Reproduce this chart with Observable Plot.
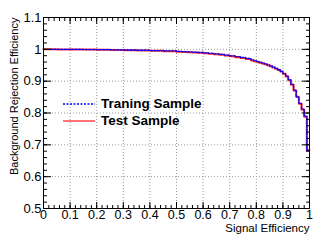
<!DOCTYPE html>
<html>
<head>
<meta charset="utf-8">
<script src="https://cdn.jsdelivr.net/npm/d3@7"></script>
<script src="https://cdn.jsdelivr.net/npm/@observablehq/plot@0.6"></script>
<style>
  html, body { margin: 0; padding: 0; background: white; }
  #wrap { position: relative; width: 332px; height: 240px; font-family: "Liberation Sans", Arial, Helvetica, sans-serif; }
  #legend { position: absolute; left: 63px; top: 95px; font-weight: bold; font-size: 13.5px; color: black; }
  .row { display: flex; align-items: center; height: 17px; }
  .row svg { margin-right: 6px; }
</style>
</head>
<body>
<div id="wrap"></div>
<script>
const sigEff = [0,0.05,0.10,0.15,0.20,0.25,0.30,0.35,0.40,0.45,0.50,
  0.52,0.54,0.56,0.58,0.60,0.62,0.64,0.66,0.68,0.70,0.72,0.74,0.76,0.78,
  0.79,0.80,0.81,0.82,0.83,0.84,0.85,0.86,0.87,0.88,0.89,0.90,
  0.91,0.92,0.93,0.94,0.95,0.96,0.97,0.98,0.99,1.00];
const testRej = [1.0000,0.9998,0.9995,0.9992,0.9988,0.9982,0.9975,0.9966,0.9955,0.9942,0.9927,
  0.9920,0.9911,0.9901,0.9890,0.9877,0.9862,0.9845,0.9826,0.9804,0.9780,0.9755,0.9727,0.9693,0.9650,
  0.9628,0.9605,0.9580,0.9555,0.9528,0.9498,0.9465,0.9430,0.9392,0.9350,0.9300,0.9235,
  0.9150,0.9030,0.8890,0.8710,0.8510,0.8290,0.8100,0.7880,0.6820,0.6820];
const trainRej = [1.0000,0.9998,0.9996,0.9993,0.9990,0.9985,0.9979,0.9971,0.9961,0.9949,0.9935,
  0.9928,0.9920,0.9911,0.9900,0.9888,0.9874,0.9858,0.9840,0.9819,0.9796,0.9771,0.9744,0.9712,0.9670,
  0.9648,0.9624,0.9599,0.9572,0.9544,0.9513,0.9480,0.9443,0.9402,0.9358,0.9306,0.9240,
  0.9160,0.9040,0.8900,0.8720,0.8500,0.8300,0.8120,0.7900,0.6830,0.6830];
const xTicks = [0,0.1,0.2,0.3,0.4,0.5,0.6,0.7,0.8,0.9,1];
const yTicks = [0.5,0.6,0.7,0.8,0.9,1,1.1];
const xMinor = d3.range(0, 1.0001, 0.02);
const yMinor = d3.range(0.5, 1.1001, 0.02);
const series = ["Traning Sample", "Test Sample"];
const xTitle = "Signal Efficiency";
const yTitle = "Background Rejection Efficiency";

const test = sigEff.map((x, i) => ({x, y: testRej[i]}));
const train = sigEff.map((x, i) => ({x, y: trainRej[i]}));
const fmt = d => String(d);

const chart = Plot.plot({
  width: 332, height: 240,
  marginLeft: 43, marginRight: 23, marginTop: 17, marginBottom: 32,
  x: {domain: [0, 1]},
  y: {domain: [0.5, 1.1]},
  style: {fontFamily: "'Liberation Sans', Arial, Helvetica, sans-serif", background: "white", color: "black", overflow: "visible"},
  marks: [
    Plot.gridX(xTicks, {stroke: "#999", strokeOpacity: 1, strokeDasharray: "1,2"}),
    Plot.gridY(yTicks, {stroke: "#999", strokeOpacity: 1, strokeDasharray: "1,2"}),
    Plot.line(test, {x: "x", y: "y", curve: "step-after", stroke: "#ff2a2a", strokeWidth: 2}),
    Plot.line(train, {x: "x", y: "y", curve: "step-after", stroke: "#0000ff", strokeWidth: 1.3, strokeDasharray: "2,1.5"}),
    Plot.frame({stroke: "black"}),
    Plot.axisX(xTicks, {anchor: "bottom", tickSize: 0, tickPadding: 2, fontSize: 12.5, tickFormat: fmt, label: null}),
    Plot.axisX(xTicks, {anchor: "bottom", tickSize: -6, tickFormat: () => "", label: null}),
    Plot.axisX(xMinor, {anchor: "bottom", tickSize: -3, tickFormat: () => "", label: null}),
    Plot.axisX(xTicks, {anchor: "top", tickSize: -6, tickFormat: () => "", label: null}),
    Plot.axisX(xMinor, {anchor: "top", tickSize: -3, tickFormat: () => "", label: null}),
    Plot.axisY(yTicks, {anchor: "left", tickSize: 0, tickPadding: 2, fontSize: 13, tickFormat: fmt, label: null}),
    Plot.axisY(yTicks, {anchor: "left", tickSize: -8, tickFormat: () => "", label: null}),
    Plot.axisY(yMinor, {anchor: "left", tickSize: -4, tickFormat: () => "", label: null}),
    Plot.axisY(yTicks, {anchor: "right", tickSize: -8, tickFormat: () => "", label: null}),
    Plot.axisY(yMinor, {anchor: "right", tickSize: -4, tickFormat: () => "", label: null}),
    Plot.text([xTitle], {frameAnchor: "bottom-right", textAnchor: "end", dy: 23, fontSize: 11.5}),
    Plot.text([yTitle], {frameAnchor: "top-left", textAnchor: "end", rotate: -90, dx: -33, fontSize: 11})
  ]
});

const wrap = document.getElementById("wrap");
wrap.appendChild(chart);
const legend = document.createElement("div");
legend.id = "legend";
const styles = [
  {stroke: "#0000ff", dash: "2,1.5", w: 1.3},
  {stroke: "#ff2a2a", dash: null, w: 1.3}
];
series.forEach((name, i) => {
  const row = document.createElement("div");
  row.className = "row";
  const s = styles[i];
  row.innerHTML = `<svg width="32" height="4"><line x1="0" x2="32" y1="2" y2="2" stroke="${s.stroke}" stroke-width="${s.w}" ${s.dash ? `stroke-dasharray="${s.dash}"` : ""}/></svg><span>${name}</span>`;
  legend.appendChild(row);
});
wrap.appendChild(legend);
</script>
</body>
</html>
